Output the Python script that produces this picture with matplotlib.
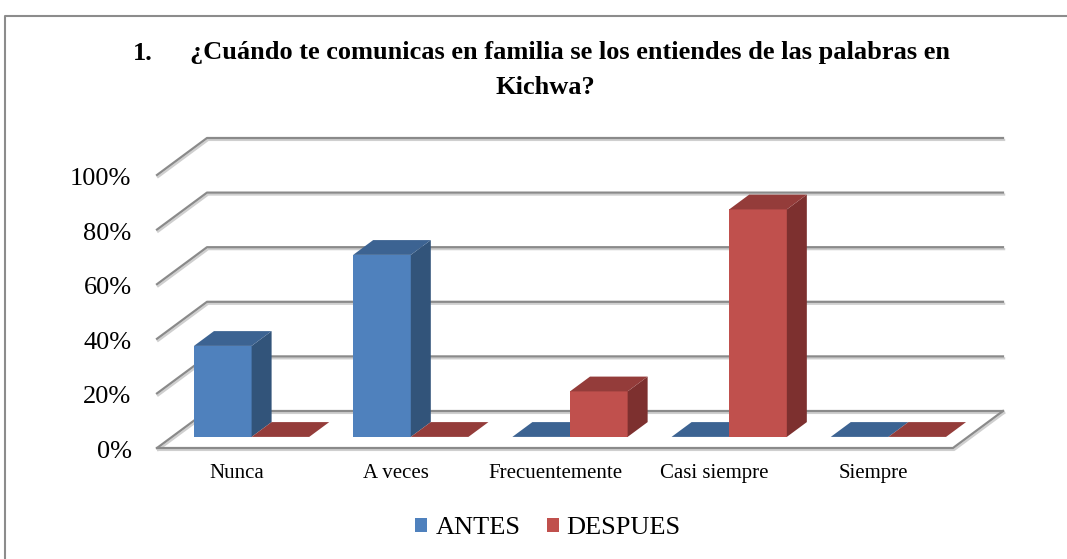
import matplotlib
matplotlib.use("Agg")
import matplotlib.pyplot as plt
from matplotlib.patches import Polygon, Patch
from matplotlib.lines import Line2D
import matplotlib.patheffects as pe

# --------------------------------------------------------------
# Datos del gráfico
# --------------------------------------------------------------
categorias = ["Nunca", "A veces", "Frecuentemente", "Casi siempre", "Siempre"]
antes = [33.33, 66.67, 0, 0, 0]
despues = [0, 0, 16.67, 83.33, 0]
series = ["ANTES", "DESPUES"]
ticks = [0, 20, 40, 60, 80, 100]
titulo_num = "1."
titulo_l1 = "¿Cuándo te comunicas en familia se los entiendes de las palabras en"
titulo_l2 = "Kichwa?"

plt.rcParams['font.family'] = ['Liberation Serif', 'DejaVu Serif']

W, H = 1067, 559
fig = plt.figure(figsize=(W / 100, H / 100), dpi=100)
ax = fig.add_axes([0, 0, 1, 1])

# escala: categorias en x, porcentaje en y (pseudo 3D oblicuo)
px_cat, x0_px = 159.2, 157
px_pct, y0_px = 2.73, 448
ax.set_xlim(-0.5 - x0_px / px_cat, -0.5 + (W - x0_px) / px_cat)
ax.set_ylim((y0_px - H) / px_pct, y0_px / px_pct)
ax.axis('off')

DX = 50 / px_cat   # desplazamiento de profundidad
DY = 37 / px_pct


def proj(x, y, d):
    return (x + d * DX, y + d * DY)


n = len(categorias)
xl, xr = -0.5, n - 0.5
grid_col = '#8a8a8a'
sombra = [pe.SimpleLineShadow(offset=(0.8, -1.4), shadow_color='#cfcfcf', alpha=1),
          pe.Normal()]

# Lineas de cuadricula (pared lateral + fondo)
for v in ticks:
    pts = [proj(xl, v, 0), proj(xl, v, 1), proj(xr, v, 1)]
    xs, ys = zip(*pts)
    ax.plot(xs, ys, color=grid_col, lw=1.6, path_effects=sombra, zorder=1)
    ax.text(xl - 0.16, v - 1.5, f"{v}%", ha='right', va='center', fontsize=19)

# Borde del piso
pts = [proj(xl, 0, 0), proj(xr, 0, 0), proj(xr, 0, 1)]
xs, ys = zip(*pts)
ax.plot(xs, ys, color=grid_col, lw=1.6, path_effects=sombra, zorder=1)

# Barras
d0, d1 = 0.30, 0.70
w = 0.362
colores = {"ANTES": ('#4F81BD', '#3C6392', '#32547A'),
           "DESPUES": ('#C0504D', '#943C3A', '#7D302F')}
for i in range(n):
    for k, vals in enumerate([antes, despues]):
        v = vals[i]
        a = i - w if k == 0 else i
        b = a + w
        frente, arriba, lado = colores[series[k]]
        if v > 0:
            ax.add_patch(Polygon([proj(a, 0, d0), proj(b, 0, d0), proj(b, v, d0), proj(a, v, d0)],
                                 fc=frente, ec='none', zorder=3))
            ax.add_patch(Polygon([proj(b, 0, d0), proj(b, 0, d1), proj(b, v, d1), proj(b, v, d0)],
                                 fc=lado, ec='none', zorder=3))
        ax.add_patch(Polygon([proj(a, v, d0), proj(b, v, d0), proj(b, v, d1), proj(a, v, d1)],
                             fc=arriba, ec='none', zorder=3))
    ax.text(i, -9.5, categorias[i], ha='center', va='center', fontsize=15)

# Titulo
fig.text(133 / W, 1 - 53 / H, titulo_num, fontsize=19, fontweight='bold', va='center')
fig.text(190 / W, 1 - 53 / H, titulo_l1, fontsize=19, fontweight='bold', va='center')
fig.text(545 / W, 1 - 87 / H, titulo_l2, fontsize=19, fontweight='bold', va='center', ha='center')

# Leyenda
handles = [Patch(fc=colores[s][0], ec='none') for s in series]
fig.legend(handles, series, loc='center', bbox_to_anchor=(548 / W, 1 - 528 / H), ncol=2,
           frameon=False, fontsize=19, handlelength=0.45, handleheight=0.45,
           handletextpad=0.3, columnspacing=1.0)

# Marco exterior
fig.add_artist(Line2D([5 / W, 5 / W, 1], [0, 1 - 16 / H, 1 - 16 / H],
                      transform=fig.transFigure, color='#8c8c8c', lw=1.5))

fig.savefig("out.png", dpi=100)
